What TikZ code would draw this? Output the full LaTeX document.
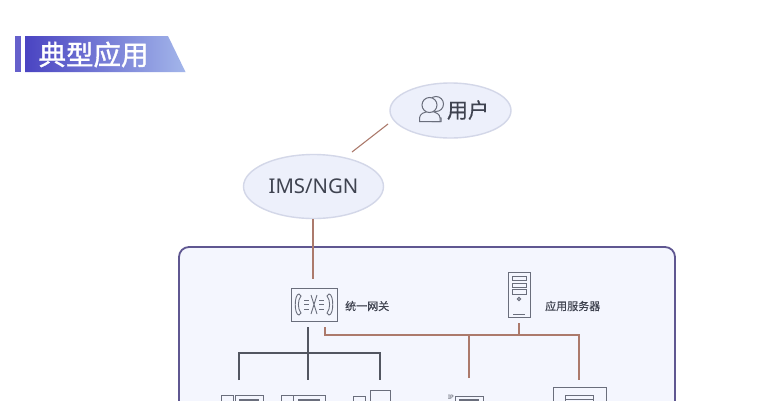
\documentclass[tikz,border=0pt]{standalone}
\usepackage{fontspec}
\setmainfont{Noto Sans}
\newfontfamily\cjk{Noto Sans CJK SC}
\newfontfamily\cjkheavy[FakeBold=1.2]{Noto Sans CJK SC}
\newfontfamily\cjkmid[FakeBold=0.5]{Noto Sans CJK SC}
\usetikzlibrary{shapes.geometric,positioning}
\definecolor{banL}{HTML}{4A44C2}
\definecolor{banR}{HTML}{A3B6EA}
\definecolor{ellF}{HTML}{EDF0FB}
\definecolor{ellD}{HTML}{D3D7E8}
\definecolor{panF}{HTML}{F4F6FE}
\definecolor{panD}{HTML}{5F5791}
\definecolor{brownL}{HTML}{AC7A6C}
\definecolor{ink}{HTML}{3F4350}
\definecolor{iconD}{HTML}{6A6E7C}
\tikzset{
  cloud oval/.style={ellipse,draw=ellD,fill=ellF,line width=1.4pt,inner sep=0pt,text=ink},
  brownline/.style={draw=brownL,line width=1.1pt},
  darkline/.style={draw=ink!90!white,line width=1.1pt},
  iconline/.style={draw=iconD,line width=1pt},
  smalllabel/.style={text=ink,font=\cjkmid\fontsize{11}{13}\selectfont,inner sep=0pt},
}
\begin{document}
\begin{tikzpicture}[x=1pt,y=-1pt]
\useasboundingbox (0,0) rectangle (782,400);
\clip (0,0) rectangle (782,400);
\fill[white] (0,0) rectangle (782,400);
% banner
\fill[banL!85!white] (15,36) rectangle (21,72);
\shade[left color=banL,right color=banR] (25,36) -- (168,36) -- (185.5,72) -- (25,72) -- cycle;
\node[text=white,font=\cjkheavy\fontsize{27.5}{30}\selectfont,inner sep=0pt] (title) at (93.5,54.5) {典型应用};
% ovals
\node[cloud oval,minimum width=121pt,minimum height=55pt] (user) at (450.5,110.5) {};
\node[cloud oval,minimum width=140pt,minimum height=64pt,font=\fontsize{20.3}{24}\selectfont] (ims) at (313.5,186.5) {IMS/NGN};
\node[text=ink,font=\cjkmid\fontsize{21}{24}\selectfont,inner sep=0pt] (userlabel) at (468,110) {用户};
% user icon
\draw[iconline,fill=ellF] (436,104) circle (7.5);
\draw[iconline,fill=ellF] (441,118) -- (441,121.5) -- (432,121.5) -- (432,116) -- cycle;
\draw[iconline,fill=ellF] (419.5,121.5) -- (419.5,118) .. controls (420,113.5) and (424,112.5) .. (427,111.5) -- (433,111.5) .. controls (436,112.5) and (440,114) .. (440,118) -- (440,121.5) -- cycle;
\draw[iconline,fill=ellF] (429.5,105) circle (7.5);
% panel
\draw[fill=panF,draw=panD,line width=1.8pt,rounded corners=10pt] (179,247) rectangle (675,430);
% free ends
\coordinate (lnkA) at (388,124);
\coordinate (lnkB) at (352,152);
\coordinate (lnkC) at (313,219);
\coordinate (lnkD) at (313,279);
\draw[brownline] (lnkA) -- (lnkB);
\draw[brownline] (lnkC) -- (lnkD);
% gateway
\node[draw=iconD,line width=1pt,fill=panF,minimum width=46pt,minimum height=33pt,inner sep=0pt] (gw) at (314,304.5) {};
\node[smalllabel,anchor=west] (gwlabel) at (345,306) {统一网关};
\begin{scope}[iconline,line width=.9pt]
\draw (299,294) .. controls (294,294) and (294,315) .. (299,315) -- (301,313) .. controls (297.5,309) and (297.5,300) .. (301,296) -- cycle;
\draw (329,294) .. controls (334,294) and (334,315) .. (329,315) -- (327,313) .. controls (330.5,309) and (330.5,300) .. (327,296) -- cycle;
\draw (304,300) -- (309,300) (304,304) -- (309,304) (304,309) -- (309,309);
\draw (319,300) -- (324,300) (319,304) -- (324,304) (319,309) -- (324,309);
\draw (311,295) -- (317,314) (317,295) -- (311,314);
\end{scope}
% server
\node[draw=iconD,line width=1pt,fill=panF,minimum width=22pt,minimum height=45pt,inner sep=0pt] (srv) at (519,294.5) {};
\node[smalllabel,anchor=west] (srvlabel) at (545,306) {应用服务器};
\begin{scope}[iconline]
\draw (512,276.5) rectangle (526,280.5);
\draw (512,283) rectangle (526,287);
\draw (512,289.5) rectangle (526,294);
\draw (519,299) circle (1.6);
\draw (513,314) -- (525,314);
\end{scope}
% bottom devices
\node[draw=iconD,line width=1pt,minimum width=12pt,minimum height=20pt,inner sep=0pt,anchor=north west] (p1a) at (221,395) {};
\node[draw=iconD,line width=1pt,minimum width=28pt,minimum height=20pt,inner sep=0pt,anchor=north west] (p1b) at (235,395) {};
\fill[iconD] (239,398.5) rectangle (259,401);
\node[draw=iconD,line width=1pt,minimum width=12pt,minimum height=20pt,inner sep=0pt,anchor=north west] (p2a) at (281,395) {};
\node[draw=iconD,line width=1pt,minimum width=32pt,minimum height=20pt,inner sep=0pt,anchor=north west] (p2b) at (293,395) {};
\fill[iconD] (298,398.5) rectangle (320,401);
\node[draw=iconD,line width=1pt,minimum width=12pt,minimum height=20pt,inner sep=0pt,anchor=north west] (p3a) at (353,396) {};
\node[draw=iconD,line width=1pt,minimum width=20pt,minimum height=26pt,inner sep=0pt,anchor=north west] (p3b) at (370,390) {};
\node[text=ink,font=\fontsize{6}{7}\selectfont,inner sep=0pt,anchor=south east] (iplabel) at (454,399.5) {IP};
\node[draw=iconD,line width=1pt,minimum width=28pt,minimum height=20pt,inner sep=0pt,anchor=north west] (ipb) at (455,396) {};
\fill[iconD] (459,398.5) rectangle (479,401);
\node[draw=iconD,line width=1.2pt,minimum width=53pt,minimum height=30pt,inner sep=0pt,anchor=north west] (termO) at (553,387) {};
\node[draw=iconD,line width=1.2pt,minimum width=28pt,minimum height=20pt,inner sep=0pt,anchor=north west] (termI) at (565,395) {};
\draw[iconline] (565,399.5) -- (593,399.5);
% tree links
\coordinate (dTop) at (308,327);
\coordinate (dMid) at (308,353);
\coordinate (dL) at (239,380);
\coordinate (dC) at (308,380);
\coordinate (dR) at (380,380);
\draw[darkline] (dTop) -- (dC);
\draw[darkline] (dL) |- (dMid) -| (dR);
\coordinate (bTop) at (325,327);
\coordinate (bS) at (519,323);
\coordinate (bIP) at (469,378);
\coordinate (bT) at (579,380);
\draw[brownline] (bTop) |- (519,335) -- (bS);
\draw[brownline] (519,335) -| (bT);
\draw[brownline] (bIP) -- (469,335);
\end{tikzpicture}
\end{document}
